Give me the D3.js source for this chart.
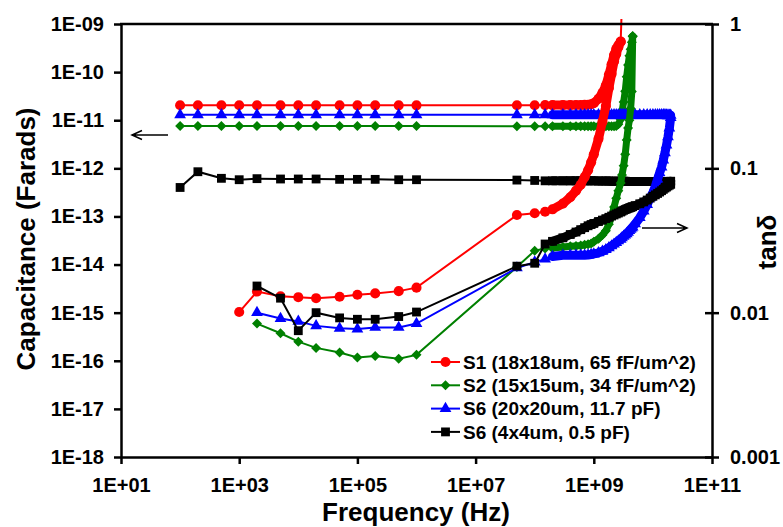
<!DOCTYPE html>
<html>
<head>
<meta charset="utf-8">
<script src="https://cdn.jsdelivr.net/npm/d3@7"></script>
<style>
  body { margin: 0; background: #fff; }
  text { font-family: "Liberation Sans", Arial, sans-serif; font-weight: bold; }
</style>
</head>
<body>
<script>
// frequencies (Hz)
let freqLF = [1e2, 2e2, 5e2, 1e3, 2e3, 5e3, 1e4, 2e4, 5e4, 1e5, 2e5, 5e5, 1e6]
let freqTanLF = [2e3, 5e3, 1e4, 2e4, 5e4, 1e5, 2e5, 5e5, 1e6]
let freqTanS1LF = [1e3, 2e3, 5e3, 1e4, 2e4, 5e4, 1e5, 2e5, 5e5, 1e6]
let freqHF = [
  5e7, 1e8, 1.5e8, 2e8, 3e8, 4e8, 5e8, 6e8, 7e8, 8e8,
  9e8, 1e9, 1.2e9, 1.4e9, 1.6e9, 1.8e9, 2e9, 2.2e9, 2.4e9, 2.6e9,
  2.85e9, 3e9, 3.2e9, 3.4e9, 3.6e9, 3.8e9, 4e9, 4.2e9, 4.4e9, 4.55e9,
  5e9, 6e9, 7e9, 8e9, 9e9, 1e10, 1.1e10, 1.2e10, 1.3e10, 1.4e10,
  1.5e10, 1.6e10, 1.7e10, 1.8e10, 1.9e10, 2e10
]

// capacitance (F), left axis
let capS1LF = [2.05e-11, 2.05e-11, 2.05e-11, 2.05e-11, 2.05e-11, 2.04e-11, 2.04e-11, 2.04e-11, 2.04e-11, 2.04e-11, 2.04e-11, 2.04e-11, 2.04e-11]
let capS2LF = [7.6e-12, 7.6e-12, 7.6e-12, 7.6e-12, 7.6e-12, 7.6e-12, 7.6e-12, 7.6e-12, 7.6e-12, 7.6e-12, 7.6e-12, 7.6e-12, 7.6e-12]
let capS6aLF = [1.3e-11, 1.3e-11, 1.3e-11, 1.3e-11, 1.3e-11, 1.3e-11, 1.3e-11, 1.3e-11, 1.3e-11, 1.3e-11, 1.3e-11, 1.3e-11, 1.3e-11]
let capS6bLF = [4.0e-13, 8.5e-13, 6.2e-13, 5.8e-13, 6.1e-13, 6.0e-13, 6.0e-13, 6.0e-13, 5.9e-13, 5.9e-13, 5.9e-13, 5.8e-13, 5.8e-13]

let capS1HF = [
  2.05e-11, 2.05e-11, 2.06e-11, 2.06e-11, 2.06e-11, 2.06e-11, 2.07e-11, 2.07e-11, 2.08e-11, 2.1e-11,
  2.15e-11, 2.25e-11, 2.8e-11, 3.7e-11, 5.3e-11, 8.8e-11, 1.45e-10, 2.27e-10, 3.05e-10, 3.6e-10,
  4.3e-10, 3e-9
]
let capS2HF = [
  7.5e-12, 7.5e-12, 7.5e-12, 7.5e-12, 7.5e-12, 7.5e-12, 7.5e-12, 7.5e-12, 7.5e-12, 7.5e-12,
  7.5e-12, 7.5e-12, 7.5e-12, 7.5e-12, 7.5e-12, 7.5e-12, 7.5e-12, 7.5e-12, 7.6e-12, 8.2e-12,
  1.05e-11, 1.5e-11, 2.4e-11, 4e-11, 8e-11, 1.4e-10, 2.2e-10, 3.0e-10, 4.2e-10, 5.6e-10
]
let capS6aHF = [
  1.3e-11, 1.3e-11, 1.3e-11, 1.3e-11, 1.3e-11, 1.3e-11, 1.3e-11, 1.3e-11, 1.3e-11, 1.3e-11,
  1.3e-11, 1.3e-11, 1.3e-11, 1.3e-11, 1.3e-11, 1.3e-11, 1.3e-11, 1.3e-11, 1.3e-11, 1.3e-11,
  1.3e-11, 1.3e-11, 1.3e-11, 1.3e-11, 1.3e-11, 1.3e-11, 1.3e-11, 1.3e-11, 1.3e-11, 1.3e-11,
  1.3e-11, 1.3e-11, 1.3e-11, 1.3e-11, 1.3e-11, 1.3e-11, 1.3e-11, 1.3e-11, 1.3e-11, 1.3e-11,
  1.29e-11, 1.29e-11, 1.28e-11, 1.28e-11, 1.27e-11, 1.27e-11
]
let capS6bHF = [
  5.7e-13, 5.6e-13, 5.5e-13, 5.5e-13, 5.5e-13, 5.5e-13, 5.5e-13, 5.5e-13, 5.5e-13, 5.5e-13,
  5.5e-13, 5.5e-13, 5.45e-13, 5.45e-13, 5.45e-13, 5.45e-13, 5.4e-13, 5.4e-13, 5.4e-13, 5.4e-13,
  5.4e-13, 5.4e-13, 5.4e-13, 5.4e-13, 5.35e-13, 5.35e-13, 5.35e-13, 5.35e-13, 5.35e-13, 5.35e-13,
  5.35e-13, 5.3e-13, 5.3e-13, 5.3e-13, 5.3e-13, 5.3e-13, 5.3e-13, 5.3e-13, 5.3e-13, 5.3e-13,
  5.3e-13, 5.3e-13, 5.3e-13, 5.3e-13, 5.35e-13, 5.4e-13
]

// tan delta, right axis
let tanS1LF = [0.0101, 0.0140, 0.0130, 0.0128, 0.0126, 0.0129, 0.0133, 0.0136, 0.0141, 0.0149]
let tanS2LF = [0.0084, 0.0072, 0.0063, 0.0057, 0.0053, 0.0049, 0.0050, 0.0048, 0.0051]
let tanS6aLF = [0.0100, 0.0091, 0.0087, 0.0081, 0.0078, 0.0077, 0.0079, 0.0079, 0.0084]
let tanS6bLF = [0.0153, 0.0126, 0.0075, 0.0100, 0.0092, 0.0090, 0.0090, 0.0094, 0.0101]

let tanS1HF = [
  0.0475, 0.0488, 0.050, 0.052, 0.057, 0.063, 0.070, 0.077, 0.087, 0.097,
  0.110, 0.125, 0.160, 0.210, 0.270, 0.360, 0.450, 0.550, 0.620, 0.690,
  0.754
]
let tanS2HF = [
  0.0207, 0.0269, 0.0278, 0.028, 0.0285, 0.0288, 0.029, 0.0292, 0.0295, 0.0298,
  0.0302, 0.031, 0.0325, 0.0345, 0.037, 0.041, 0.046, 0.054, 0.062, 0.07,
  0.079, 0.09, 0.104, 0.125, 0.157, 0.19, 0.215, 0.26, 0.34, 0.82
]
let tanS6aHF = [
  0.0204, 0.0224, 0.0235, 0.0245, 0.025, 0.025, 0.025, 0.025, 0.025, 0.0251,
  0.0253, 0.0255, 0.026, 0.0266, 0.0273, 0.0281, 0.029, 0.0298, 0.0306, 0.0314,
  0.0322, 0.033, 0.0338, 0.0345, 0.0352, 0.036, 0.037, 0.0378, 0.0386, 0.0392,
  0.0412, 0.0455, 0.0505, 0.056, 0.0625, 0.068, 0.075, 0.084, 0.093, 0.102,
  0.114, 0.128, 0.145, 0.165, 0.19, 0.225
]
let tanS6bHF = [
  0.021, 0.022, 0.0299, 0.0312, 0.033, 0.0348, 0.0362, 0.0376, 0.0388, 0.04,
  0.0408, 0.0415, 0.0428, 0.0438, 0.0448, 0.0458, 0.0467, 0.0475, 0.0483, 0.049,
  0.0498, 0.0505, 0.0512, 0.0518, 0.0523, 0.0528, 0.0532, 0.0536, 0.054, 0.0543,
  0.0552, 0.0568, 0.0585, 0.0603, 0.0622, 0.064, 0.0655, 0.067, 0.0685, 0.07,
  0.0715, 0.073, 0.0742, 0.0755, 0.0765, 0.0775
]

let names = ['S1 (18x18um, 65 fF/um^2)', 'S2 (15x15um, 34 fF/um^2)', 'S6 (20x20um, 11.7 pF)', 'S6 (4x4um, 0.5 pF)']
let colors = ['#ff0000', '#008000', '#0000ff', '#000000']

let freqTicks = [1e1, 1e3, 1e5, 1e7, 1e9, 1e11]
let capTicks = [1e-18, 1e-17, 1e-16, 1e-15, 1e-14, 1e-13, 1e-12, 1e-11, 1e-10, 1e-9]
let tanTicks = [0.001, 0.01, 0.1, 1]

width = 783
height = 527
margin = ({ left: 121, right: 71, top: 24, bottom: 70 })

let svg = d3.select('body')
  .append('svg')
  .attr('width', width)
  .attr('height', height)

let x = d3.scaleLog()
  .domain([1e1, 1e11])
  .range([margin.left, width - margin.right])

let yL = d3.scaleLog()
  .domain([1e-18, 1e-9])
  .range([height - margin.bottom, margin.top])

let yR = d3.scaleLog()
  .domain([0.001, 1])
  .range([height - margin.bottom, margin.top])

let fmtE = d => {
  let e = Math.round(Math.log10(d))
  return '1E' + (e < 0 ? '-' : '+') + String(Math.abs(e)).padStart(2, '0')
}

let pts = (fs, vs) => fs.map((f, i) => ({ f: f, v: vs[i] })).filter(d => d.v != null)

let series = [
  { sym: 'circle', band: 9, cap: pts(freqLF, capS1LF).concat(pts(freqHF, capS1HF)), tan: pts(freqTanS1LF, tanS1LF).concat(pts(freqHF, tanS1HF)) },
  { sym: 'diamond', band: 7, cap: pts(freqLF, capS2LF).concat(pts(freqHF, capS2HF)), tan: pts(freqTanLF, tanS2LF).concat(pts(freqHF, tanS2HF)) },
  { sym: 'triangle', band: 9, cap: pts(freqLF, capS6aLF).concat(pts(freqHF, capS6aHF)), tan: pts(freqTanLF, tanS6aLF).concat(pts(freqHF, tanS6aHF)) },
  { sym: 'square', band: 9, cap: pts(freqLF, capS6bLF).concat(pts(freqHF, capS6bHF)), tan: pts(freqTanLF, tanS6bLF).concat(pts(freqHF, tanS6bHF)) }
]
series.forEach((s, i) => { s.name = names[i]; s.color = colors[i] })

let symbols = {
  circle: d3.symbol(d3.symbolCircle, 80),
  square: d3.symbol(d3.symbolSquare, 78),
  triangle: d3.symbol(d3.symbolTriangle, 60),
  diamond: d3.symbol(d3.symbolSquare, 50)
}
let symRot = s => s == 'diamond' ? ' rotate(45)' : ''

svg.append('clipPath').attr('id', 'clip')
  .append('rect')
  .attr('x', margin.left - 8)
  .attr('y', 19)
  .attr('width', width - margin.left - margin.right + 16)
  .attr('height', height - margin.bottom - 19 + 8)

let plot = svg.append('g').attr('clip-path', 'url(#clip)')

function drawCurve(data, y, s) {
  let line = d3.line().x(d => x(d.f)).y(d => y(d.v))
  let inside = data.filter(d => y(d.v) >= margin.top)
  plot.append('path')
    .datum(data)
    .attr('fill', 'none')
    .attr('stroke', s.color)
    .attr('stroke-width', 2)
    .attr('d', line)
  // dense sweep: overlapping markers form a solid band
  plot.append('path')
    .datum(inside.filter(d => d.f >= 2e8))
    .attr('fill', 'none')
    .attr('stroke', s.color)
    .attr('stroke-width', s.band)
    .attr('stroke-linejoin', 'round')
    .attr('stroke-linecap', 'round')
    .attr('d', line)
  plot.selectAll(null)
    .data(inside)
    .join('path')
      .attr('transform', d => `translate(${x(d.f)},${y(d.v)})` + symRot(s.sym))
      .attr('d', symbols[s.sym]())
      .attr('fill', s.color)
}

series.forEach(s => drawCurve(s.cap, yL, s))
series.forEach(s => drawCurve(s.tan, yR, s))

// axes
let styleAxis = g => {
  g.selectAll('.domain, .tick line').attr('stroke', '#000').attr('stroke-width', 2.5)
  g.selectAll('text').style('font-size', '20px').attr('fill', '#000')
}

svg.append('g')
  .attr('transform', `translate(${margin.left},0)`)
  .call(d3.axisLeft(yL).tickValues(capTicks).tickFormat(fmtE).tickSize(7).tickPadding(10).tickSizeOuter(0))
  .call(styleAxis)

svg.append('g')
  .attr('transform', `translate(0,${height - margin.bottom})`)
  .call(d3.axisBottom(x).tickValues(freqTicks).tickFormat(fmtE).tickSize(7).tickPadding(14).tickSizeOuter(0))
  .call(styleAxis)

svg.append('g')
  .attr('transform', `translate(${width - margin.right},0)`)
  .call(d3.axisRight(yR).tickValues(tanTicks).tickFormat(d => String(d)).tickSize(7).tickPadding(11).tickSizeOuter(0))
  .call(styleAxis)
  .call(g => g.selectAll('.tick line').attr('x1', -7))

svg.append('line')
  .attr('x1', margin.left - 1)
  .attr('x2', width - margin.right + 1)
  .attr('y1', margin.top)
  .attr('y2', margin.top)
  .attr('stroke', '#000')
  .attr('stroke-width', 2.5)

// titles
svg.append('text')
  .attr('transform', 'translate(35,239) rotate(-90)')
  .attr('text-anchor', 'middle')
  .style('font-size', '26px')
  .text('Capacitance (Farads)')

svg.append('text')
  .attr('x', 416)
  .attr('y', 521)
  .attr('text-anchor', 'middle')
  .style('font-size', '26px')
  .text('Frequency (Hz)')

svg.append('text')
  .attr('transform', 'translate(776,242) rotate(-90)')
  .attr('text-anchor', 'middle')
  .style('font-size', '26px')
  .text('tanδ')

// arrows pointing to the axes
let arrows = [
  { x1: 168, x2: 132, y: 135 },
  { x1: 642, x2: 687, y: 228 }
]
arrows.forEach(a => {
  let dir = a.x2 > a.x1 ? -1 : 1
  svg.append('path')
    .attr('d', `M${a.x1},${a.y}H${a.x2}M${a.x2 + dir * 10},${a.y - 4.5}L${a.x2},${a.y}L${a.x2 + dir * 10},${a.y + 4.5}`)
    .attr('fill', 'none')
    .attr('stroke', '#000')
    .attr('stroke-width', 1.5)
})

// legend
let legend = svg.append('g').attr('transform', 'translate(431,362)')
series.forEach((s, i) => {
  let row = legend.append('g').attr('transform', `translate(0,${i * 23.3})`)
  row.append('line')
    .attr('x1', 0).attr('x2', 29)
    .attr('stroke', s.color).attr('stroke-width', 2)
  row.append('path')
    .attr('transform', 'translate(14.5,0)' + symRot(s.sym))
    .attr('d', symbols[s.sym]())
    .attr('fill', s.color)
  row.append('text')
    .attr('x', 32)
    .attr('dy', '0.35em')
    .style('font-size', '19px')
    .text(s.name)
})
</script>
</body>
</html>
